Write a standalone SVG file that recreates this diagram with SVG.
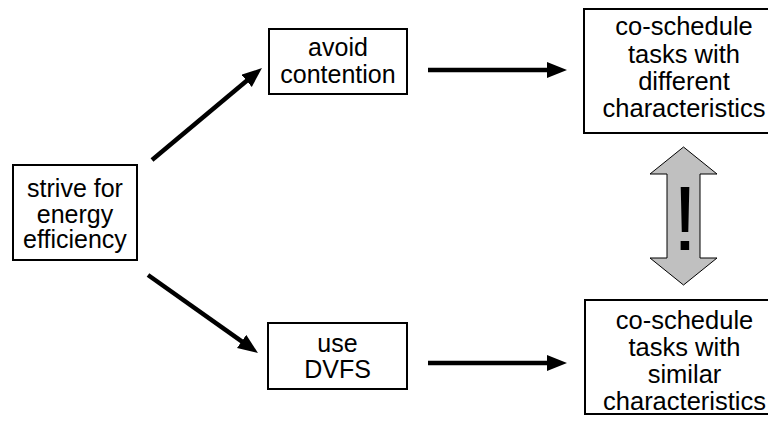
<svg xmlns="http://www.w3.org/2000/svg" width="768" height="422" viewBox="0 0 768 422">
<defs>
<style>
.box{fill:#fff;stroke:#000;stroke-width:2}
.t{font-family:"Liberation Sans",Arial,sans-serif;font-size:25px;fill:#000;text-anchor:middle}
.tb{font-size:25.5px}
.c{stroke:#000;stroke-width:4.5;fill:none;marker-end:url(#ah)}
</style>
<marker id="ah" markerUnits="userSpaceOnUse" markerWidth="22" markerHeight="18" refX="4" refY="8" orient="auto" viewBox="0 0 22 18">
<path d="M0,0 L20,8 L0,16 z" fill="#000"/>
</marker>
</defs>
<rect width="768" height="422" fill="#fff"/>
<g id="strive">
<rect class="box" x="13" y="165" width="124" height="95"/>
<text class="t" x="75" y="197">strive for</text>
<text class="t" x="75" y="222.5">energy</text>
<text class="t" x="75" y="248">efficiency</text>
</g>
<g id="avoid">
<rect class="box" x="269" y="29" width="138" height="65"/>
<text class="t" x="338" y="56">avoid</text>
<text class="t" x="338" y="83">contention</text>
</g>
<g id="dvfs">
<rect class="box" x="268" y="323" width="139" height="66"/>
<text class="t" x="337.5" y="352">use</text>
<text class="t" x="337.5" y="378">DVFS</text>
</g>
<g id="different">
<rect class="box" x="584" y="9" width="200" height="124"/>
<text class="t tb" x="684" y="35">co-schedule</text>
<text class="t tb" x="684" y="62.5">tasks with</text>
<text class="t tb" x="684" y="90">different</text>
<text class="t tb" x="684" y="117">characteristics</text>
</g>
<g id="similar">
<rect class="box" x="585" y="300" width="200" height="114"/>
<text class="t tb" x="684.5" y="329">co-schedule</text>
<text class="t tb" x="684.5" y="356">tasks with</text>
<text class="t tb" x="684.5" y="383">similar</text>
<text class="t tb" x="684.5" y="410">characteristics</text>
</g>
<g id="conflict">
<polygon points="683.5,147 717,174 700,174 700,258 717,258 683.5,285 650,258 667,258 667,174 650,174" fill="#c0c0c0" stroke="#000" stroke-width="1"/>
<text x="685" y="250" font-family="'Liberation Sans',Arial,sans-serif" font-size="90" text-anchor="middle" fill="#000">!</text>
</g>
<g id="connectors">
<line class="c" x1="152" y1="160" x2="249.7" y2="78.3"/>
<line class="c" x1="148" y1="275" x2="244.9" y2="343.7"/>
<line class="c" x1="428" y1="70" x2="551" y2="70"/>
<line class="c" x1="428" y1="363" x2="551" y2="363"/>
</g>
</svg>
